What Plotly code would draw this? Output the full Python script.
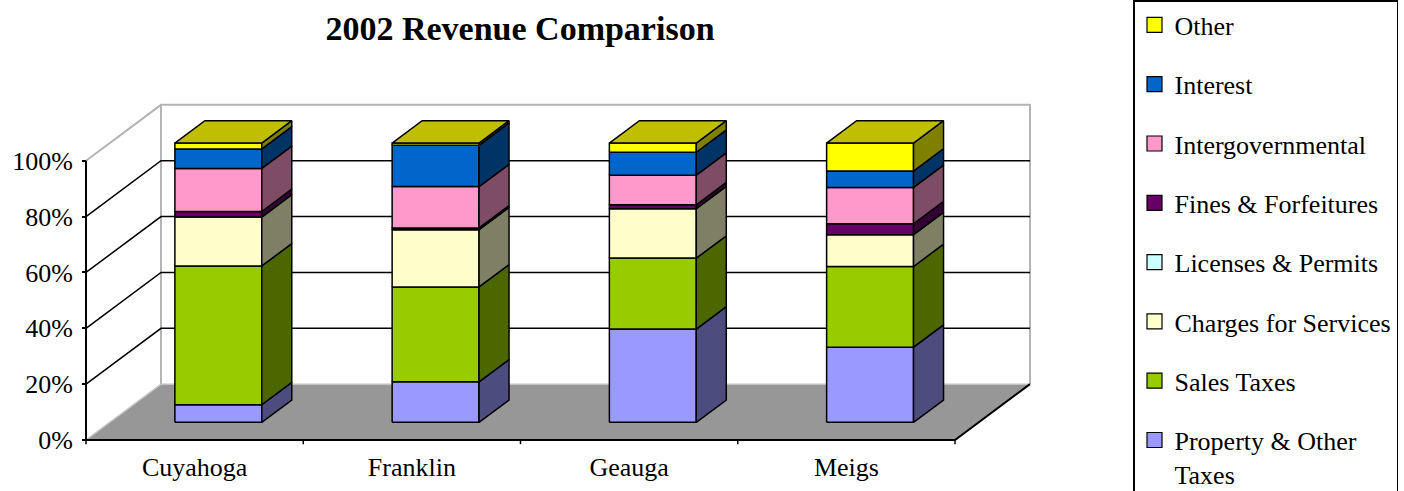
import plotly.graph_objects as go

# ---- data (percent of total revenue, 2002) ----
categories = ["Cuyahoga", "Franklin", "Geauga", "Meigs"]
series_names = ["Property & Other<br>Taxes", "Sales Taxes", "Charges for Services",
                "Licenses & Permits", "Fines & Forfeitures", "Intergovernmental",
                "Interest", "Other"]
property_taxes = [6.3, 14.5, 33.4, 26.9]
sales_taxes = [49.7, 34.0, 25.4, 28.9]
charges_for_services = [17.5, 20.5, 17.7, 11.4]
licenses_permits = [0.0, 0.0, 0.0, 0.0]
fines_forfeitures = [2.0, 0.6, 1.4, 3.9]
intergovernmental = [15.4, 14.8, 10.6, 13.0]
interest = [7.0, 14.8, 8.2, 5.9]
other = [2.1, 0.8, 3.3, 10.0]
y_ticks = [0, 20, 40, 60, 80, 100]

series_values = [property_taxes, sales_taxes, charges_for_services, licenses_permits,
                 fines_forfeitures, intergovernmental, interest, other]

# ---- styling ----
front_colors = ["#9999FF", "#99CC00", "#FFFFCC", "#CCFFFF",
                "#660066", "#FF99CC", "#0066CC", "#FFFF00"]


def shade(hex_color, f):
    h = hex_color.lstrip("#")
    r, g, b = (int(h[i:i + 2], 16) for i in (0, 2, 4))
    return "#{:02X}{:02X}{:02X}".format(int(r * f), int(g * f), int(b * f))


side_colors = [shade(c, 0.5) for c in front_colors]
top_colors = [shade(c, 0.75) for c in front_colors]

FONT = "Liberation Serif"
W, H = 1404, 491
ORIGIN_PX = (86, 440)          # pixel position of (category 0, 0%) on the front plane
PX_PER_CAT = 217.25
PX_PER_PCT = 2.793
DEPTH_DX = 75 / PX_PER_CAT     # oblique depth offset in category units
DEPTH_DY = 20.0                # oblique depth offset in percent units
BAR_W = 0.40
BAR_Z0, BAR_Z1 = 0.316, 0.716
N = len(categories)

x_range = [-ORIGIN_PX[0] / PX_PER_CAT, (W - ORIGIN_PX[0]) / PX_PER_CAT]
y_range = [-(H - ORIGIN_PX[1]) / PX_PER_PCT, ORIGIN_PX[1] / PX_PER_PCT]


def proj(x, y, z):
    return x + z * DEPTH_DX, y + z * DEPTH_DY


def polys(polygons, close=True):
    xs, ys = [], []
    for pts in polygons:
        seq = list(pts) + ([pts[0]] if close else [])
        for p in seq:
            px, py = proj(*p)
            xs.append(px)
            ys.append(py)
        xs.append(None)
        ys.append(None)
    return xs, ys


fig = go.Figure()


def add_fill(polygons, fill, line_color="black", line_width=0.0):
    xs, ys = polys(polygons)
    fig.add_trace(go.Scatter(
        x=xs, y=ys, mode="lines", fill="toself", fillcolor=fill,
        line=dict(color=line_color if line_width > 0 else fill, width=line_width),
        hoverinfo="skip", showlegend=False))


def add_lines(paths, color, width):
    xs, ys = polys(paths, close=False)
    fig.add_trace(go.Scatter(
        x=xs, y=ys, mode="lines", line=dict(color=color, width=width),
        hoverinfo="skip", showlegend=False))


# walls and floor
add_fill([[(0, 0, 0), (0, 100, 0), (0, 100, 1), (0, 0, 1)],
          [(0, 0, 1), (N, 0, 1), (N, 100, 1), (0, 100, 1)]], "white")
add_fill([[(0, 0, 0), (N, 0, 0), (N, 0, 1), (0, 0, 1)]], "#979797")
add_lines([[(0, 100, 0), (0, 100, 1), (N, 100, 1), (N, 0, 1)],
           [(0, 100, 1), (0, 0, 1)]], "#B4B4B4", 2)
add_lines([[(0, 0, 0), (0, 0, 1), (N, 0, 1)]], "#C4C4C4", 1.5)

# gridlines on side and back walls
add_lines([[(0, v, 0), (0, v, 1), (N, v, 1)] for v in y_ticks[1:-1]], "black", 1.5)

# floor front/right edges, value axis line and category boundary ticks
add_lines([[(0, 0, 0), (N, 0, 0), (N, 0, 1)]], "black", 2)
add_lines([[(0, 0, 0), (0, 100, 0)]], "black", 2)
add_lines([[(k, 0, 0), (k, -1.5, 0)] for k in range(N + 1)], "black", 1.5)

# stacked 3-D columns (100% stacked)
totals = [sum(s[i] for s in series_values) for i in range(N)]
front = [[] for _ in series_values]
side = [[] for _ in series_values]
top = [[] for _ in series_values]
for i in range(N):
    x0 = i + 0.5 - BAR_W / 2
    x1 = i + 0.5 + BAR_W / 2
    base = 0.0
    top_idx = None
    for k, vals in enumerate(series_values):
        v = vals[i] / totals[i] * 100
        if v <= 0:
            continue
        a, b = base, base + v
        front[k].append([(x0, a, BAR_Z0), (x1, a, BAR_Z0), (x1, b, BAR_Z0), (x0, b, BAR_Z0)])
        side[k].append([(x1, a, BAR_Z0), (x1, a, BAR_Z1), (x1, b, BAR_Z1), (x1, b, BAR_Z0)])
        base = b
        top_idx = k
    top[top_idx].append([(x0, base, BAR_Z0), (x1, base, BAR_Z0),
                         (x1, base, BAR_Z1), (x0, base, BAR_Z1)])

for k in range(len(series_values)):
    if front[k]:
        add_fill(front[k], front_colors[k], "black", 1.5)
        add_fill(side[k], side_colors[k], "black", 1.5)
    if top[k]:
        add_fill(top[k], top_colors[k], "black", 1.5)

# legend entries (top of stack listed first)
for k in reversed(range(len(series_values))):
    fig.add_trace(go.Scatter(
        x=[None], y=[None], mode="markers", name=series_names[k],
        legendgroup=series_names[k],
        marker=dict(symbol="square", size=15, color=front_colors[k],
                    line=dict(color="black", width=1.2)),
        showlegend=True))

fig.update_layout(
    width=W, height=H,
    margin=dict(l=0, r=0, t=0, b=0),
    paper_bgcolor="white", plot_bgcolor="white",
    font=dict(family=FONT, size=26, color="black"),
    title=dict(text="<b>2002 Revenue Comparison</b>", xref="container", yref="container",
               x=520 / W, xanchor="center", y=1 - 28 / H, yanchor="middle",
               font=dict(family=FONT, size=34, color="black")),
    xaxis=dict(range=x_range, tickvals=[i + 0.5 for i in range(N)], ticktext=categories,
               ticks="", showgrid=False, zeroline=False, showline=False,
               anchor="free", position=(H - ORIGIN_PX[1]) / H, ticklabelstandoff=9,
               tickfont=dict(family=FONT, size=26, color="black"), fixedrange=True),
    yaxis=dict(range=y_range, tickvals=y_ticks, ticktext=[f"{v}%" for v in y_ticks],
               ticks="outside", ticklen=4, tickwidth=1.5, tickcolor="black",
               showgrid=False, zeroline=False, showline=False,
               anchor="free", position=ORIGIN_PX[0] / W, ticklabelstandoff=4,
               tickfont=dict(family=FONT, size=26, color="black"), fixedrange=True),
    legend=dict(x=1133 / W, xanchor="left", y=1 - 6 / H, yanchor="top",
                bgcolor="white", bordercolor="black", borderwidth=1.5,
                font=dict(family=FONT, size=26, color="black"),
                traceorder="grouped", tracegroupgap=22.5, valign="top",
                maxheight=800),
)

fig.write_html("out.html")
